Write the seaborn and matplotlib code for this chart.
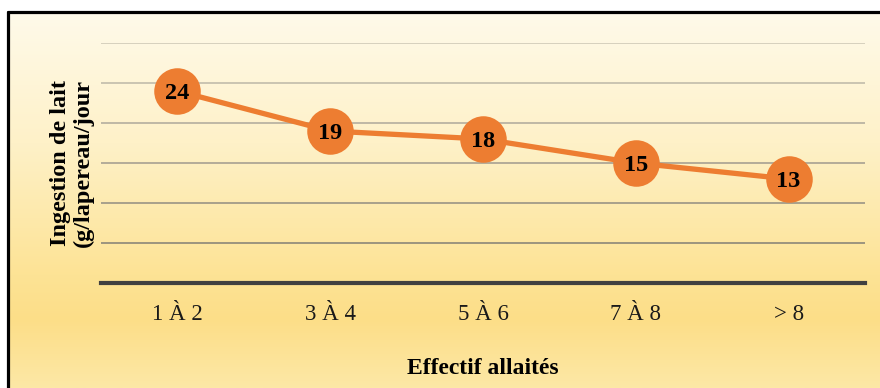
import numpy as np
import pandas as pd
import matplotlib
matplotlib.use("Agg")
import matplotlib.pyplot as plt
from matplotlib.colors import LinearSegmentedColormap, to_rgb
from matplotlib.lines import Line2D
import seaborn as sns

# Data
categories = ["1 À 2", "3 À 4", "5 À 6", "7 À 8", "> 8"]
milk_intake = [24, 19, 18, 15, 13]
grid_values = [5, 10, 15, 20, 25, 30]

x_label = "Effectif allaités"
y_label = "Ingestion de lait\n(g/lapereau/jour"

sns.set_style("white")
plt.rcParams["font.family"] = ["Liberation Serif", "DejaVu Serif"]

W, H = 880, 388
fig = plt.figure(figsize=(W / 100, H / 100), dpi=100)
fig.patch.set_facecolor("white")

# Warm vertical gradient behind the chart
left_px, top_px = 7.5, 11.5
bg = fig.add_axes([left_px / W, 0, 1 - left_px / W, (H - top_px) / H], zorder=0)
grad_cmap = LinearSegmentedColormap.from_list(
    "warm",
    [(0.0, "#FFFAEA"), (0.35, "#FEF1C8"), (0.70, "#FDE395"),
     (0.82, "#FCDE88"), (1.0, "#FDE8A6")],
)
bg.imshow(np.linspace(0, 1, 256).reshape(-1, 1), aspect="auto", cmap=grad_cmap,
          extent=[0, 1, 0, 1], origin="upper")
bg.set_axis_off()

# Frame (top and left edges)
fig.add_artist(Line2D([left_px / W, left_px / W], [0, 1 - top_px / H],
                      transform=fig.transFigure, color="black", lw=2.3, zorder=5))
fig.add_artist(Line2D([left_px / W, 1], [1 - top_px / H, 1 - top_px / H],
                      transform=fig.transFigure, color="black", lw=2.3, zorder=5))

# Main plot area
ax_l, ax_r, ax_t, ax_b = 101, 865, 43, 283
ax = fig.add_axes([ax_l / W, 1 - ax_b / H, (ax_r - ax_l) / W, (ax_b - ax_t) / H], zorder=2)
ax.patch.set_alpha(0)

df = pd.DataFrame({"effectif": categories, "ingestion": milk_intake})

orange = "#ED7D31"
sns.lineplot(data=df, x="effectif", y="ingestion", sort=False, ax=ax,
             color=orange, linewidth=3.8, marker="o", markersize=33.5,
             markeredgecolor=orange, markeredgewidth=0, zorder=4, clip_on=False)

# Horizontal gridlines, darkening toward the baseline
c_light = np.array(to_rgb("#D6D0BE"))
c_dark = np.array(to_rgb("#9C947F"))
grid_cols = [tuple(c_dark + (c_light - c_dark) * (v - grid_values[0]) /
                   (grid_values[-1] - grid_values[0])) for v in grid_values]
ax.hlines(grid_values, -0.5, len(categories) - 0.5, colors=grid_cols,
          linewidth=1.4, zorder=1)

for i, v in enumerate(milk_intake):
    ax.text(i, v, str(v), ha="center", va="center_baseline", fontsize=17.5,
            fontweight="bold", color="black", zorder=6)

ax.set_xlim(-0.5, len(categories) - 0.5)
ax.set_ylim(0, 30)
ax.set_yticks([])
ax.tick_params(axis="x", length=0, pad=15, labelsize=16.5, colors="#1a1a1a")

for side in ["top", "right", "left"]:
    ax.spines[side].set_visible(False)
ax.spines["bottom"].set_color("#404040")
ax.spines["bottom"].set_linewidth(3.0)
ax.spines["bottom"].set_zorder(3)

ax.set_xlabel(x_label, fontsize=17, fontweight="bold", labelpad=24, color="black")
ax.set_ylabel(y_label, fontsize=17.5, fontweight="bold", labelpad=5,
              color="black", linespacing=1.12)

fig.savefig("out.png", dpi=100)
